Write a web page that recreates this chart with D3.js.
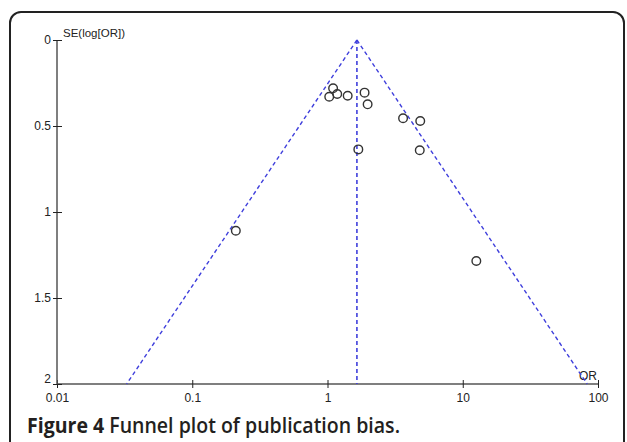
<!DOCTYPE html>
<html>
<head>
<meta charset="utf-8">
<script src="https://cdn.jsdelivr.net/npm/d3@7"></script>
<style>
  body { margin: 0; background: #fff; }
  svg { display: block; }
</style>
</head>
<body>
<script>
// study estimates
var studyOR = [1.10, 1.03, 1.18, 1.41, 1.88, 1.98, 3.62, 4.85, 1.69, 4.81, 0.21, 12.6];
var studySE = [0.281, 0.330, 0.314, 0.324, 0.306, 0.374, 0.455, 0.471, 0.636, 0.641, 1.109, 1.285];
var pooledOR = 1.65;
var seRange = [0, 2];
var xTicks = [0.01, 0.1, 1, 10, 100];
var yTicks = [0, 0.5, 1, 1.5, 2];

var W = 627, H = 442;
var svg = d3.select('body').append('svg')
    .attr('width', W)
    .attr('height', H)

// frame
svg.append('rect')
    .attr('x', 10).attr('y', 12)
    .attr('width', 614).attr('height', 445)
    .attr('rx', 11)
    .attr('fill', 'none')
    .attr('stroke', '#222')
    .attr('stroke-width', 2)

var xScale = d3.scaleLog().domain([0.01, 100]).range([57, 598])
var yScale = d3.scaleLinear().domain(seRange).range([40, 384])

var font = '"Liberation Sans", Arial, sans-serif'

// x axis
var xAxis = d3.axisBottom(xScale)
    .tickValues(xTicks)
    .tickFormat(function (d) { return String(d) })
    .tickSize(4)
    .tickPadding(5)
var gx = svg.append('g')
    .attr('transform', 'translate(0,' + yScale(2) + ')')
    .call(xAxis)
gx.select('.domain').attr('d', 'M' + xScale(0.01) + ',0H' + xScale(100)).attr('stroke', '#555').attr('stroke-width', 1.5)
gx.selectAll('.tick line').attr('y1', -4).attr('y2', 4).attr('stroke', '#222')
gx.selectAll('.tick text').attr('font-family', font).attr('font-size', 12).attr('fill', '#222')

// y axis
var yAxis = d3.axisLeft(yScale)
    .tickValues(yTicks)
    .tickFormat(function (d) { return String(d) })
    .tickSize(4)
    .tickPadding(2)
var gy = svg.append('g')
    .attr('transform', 'translate(' + xScale(0.01) + ',0)')
    .call(yAxis)
gy.select('.domain').attr('d', 'M0,' + yScale(0) + 'V' + yScale(2)).attr('stroke', '#555').attr('stroke-width', 1.5)
gy.selectAll('.tick line').attr('x1', -4).attr('x2', 5).attr('stroke', '#222')
gy.selectAll('.tick text').attr('font-family', font).attr('font-size', 12).attr('fill', '#222')
gy.selectAll('.tick').filter(function (d) { return d === 2 }).select('text').attr('dy', '-0.1em')

// axis titles
svg.append('text')
    .attr('x', 63).attr('y', 37)
    .attr('font-family', font).attr('font-size', 11.5).attr('fill', '#222')
    .text('SE(log[OR])')
svg.append('text')
    .attr('x', 597).attr('y', 380)
    .attr('text-anchor', 'end')
    .attr('font-family', font).attr('font-size', 12).attr('fill', '#222')
    .text('OR')

// funnel (pseudo 95% limits) and pooled line
var blue = '#3f3fdc'
var funnel = d3.line()
    .x(function (d) { return xScale(d[0]) })
    .y(function (d) { return yScale(d[1]) })
var lo = seRange.map(function (s) { return [Math.exp(Math.log(pooledOR) - 1.96 * s), s] })
var hi = seRange.map(function (s) { return [Math.exp(Math.log(pooledOR) + 1.96 * s), s] })
;[lo, hi, [[pooledOR, 0], [pooledOR, 2]]].forEach(function (pts, i) {
  svg.append('path')
      .attr('d', funnel(pts))
      .attr('fill', 'none')
      .attr('stroke', blue)
      .attr('stroke-width', i === 2 ? 1.6 : 1.4)
      .attr('stroke-dasharray', '4,3')
})

// study points
svg.selectAll('circle.study')
    .data(studyOR)
    .enter()
  .append('circle')
    .attr('class', 'study')
    .attr('cx', function (d) { return xScale(d) })
    .attr('cy', function (d, i) { return yScale(studySE[i]) })
    .attr('r', 4.3)
    .attr('fill', 'none')
    .attr('stroke', '#333')
    .attr('stroke-width', 1.4)

// caption
var cap = svg.append('text')
    .attr('x', 27).attr('y', 433)
    .attr('font-family', '"Open Sans", "Noto Sans", sans-serif')
    .attr('font-size', 21)
    .attr('fill', '#231f20')
    .attr('textLength', 373)
    .attr('lengthAdjust', 'spacingAndGlyphs')
cap.append('tspan').attr('font-weight', 700).text('Figure 4 ')
cap.append('tspan').attr('font-weight', 600).text('Funnel plot of publication bias.')
</script>
</body>
</html>
